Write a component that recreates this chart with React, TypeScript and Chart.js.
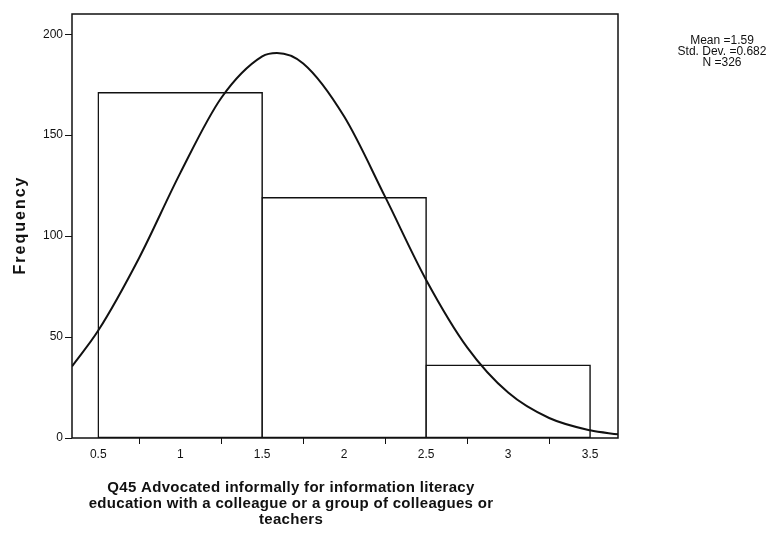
import React, { useEffect, useRef } from "react";
import { Chart, registerables } from "chart.js";

Chart.register(...registerables);

// Histogram bins (centres) and frequencies
const binCenters = [1, 2, 3];
const frequencies = [171, 119, 36];

// Normal curve
const curveX = [0.34, 0.5, 0.75, 1.0, 1.25, 1.5, 1.59, 1.75, 2.0, 2.25, 2.5, 2.75, 3.0, 3.25, 3.5, 3.67];
const curveY = [35.5, 53.2, 89.3, 131.2, 168.4, 189.0, 190.7, 185.5, 159.2, 119.4, 78.3, 44.9, 22.5, 9.9, 3.8, 1.8];

const yTicks = [0, 50, 100, 150, 200];
const xTicks = [0.5, 1, 1.5, 2, 2.5, 3, 3.5];

const statsLines = ["Mean =1.59", "Std. Dev. =0.682", "N =326"];
const xTitleLines = [
  "Q45 Advocated informally for information literacy",
  "education with a colleague or a group of colleagues or",
  "teachers",
];
const yTitle = "Frequency";

const FONT = "'Liberation Sans', Arial, sans-serif";

const textPlugin = {
  id: "customText",
  afterDraw(chart: any) {
    const ctx = chart.ctx;
    const a = chart.chartArea;
    ctx.save();
    // frame
    ctx.strokeStyle = "#111";
    ctx.lineWidth = 1.5;
    ctx.strokeRect(a.left, a.top, a.right - a.left, a.bottom - a.top);
    ctx.fillStyle = "#111";
    ctx.textAlign = "center";
    ctx.textBaseline = "middle";
    // x title
    ctx.font = `bold 15px ${FONT}`;
    (ctx as any).letterSpacing = "0.3px";
    xTitleLines.forEach((t, i) => ctx.fillText(t, 291, 488 + i * 16));
    // stats
    (ctx as any).letterSpacing = "0px";
    ctx.font = `12px ${FONT}`;
    statsLines.forEach((t, i) => ctx.fillText(t, 722, 41 + i * 11));
    // y title
    ctx.translate(21, 225);
    ctx.rotate(-Math.PI / 2);
    ctx.font = `bold 16px ${FONT}`;
    (ctx as any).letterSpacing = "2px";
    ctx.fillText(yTitle, 0, 0);
    ctx.restore();
  },
};

export default function App() {
  const ref = useRef<HTMLCanvasElement>(null);
  useEffect(() => {
    if (!ref.current) return;
    const chart = new Chart(ref.current, {
      type: "bar",
      data: {
        datasets: [
          {
            type: "line",
            data: curveX.map((x, i) => ({ x, y: curveY[i] })),
            borderColor: "#111",
            borderWidth: 2,
            pointRadius: 0,
            cubicInterpolationMode: "monotone",
            fill: false,
            order: 0,
          } as any,
          {
            type: "bar",
            data: binCenters.map((x, i) => ({ x, y: frequencies[i] })),
            backgroundColor: "#ffffff",
            borderColor: "#111",
            borderWidth: 1.5,
            borderSkipped: false,
            inflateAmount: 0.75,
            barPercentage: 1,
            // ruler uses the 0.5 tick spacing, so double it to span a full bin
            categoryPercentage: 2,
            order: 1,
          } as any,
        ],
      },
      options: {
        animation: false,
        responsive: true,
        maintainAspectRatio: false,
        layout: { padding: { left: 0, right: 155, top: 14, bottom: 0 } },
        plugins: { legend: { display: false }, tooltip: { enabled: false } },
        scales: {
          x: {
            type: "linear",
            min: 0.34,
            max: 3.67,
            offset: false,
            afterFit: (s: any) => {
              s.height = 100;
            },
            afterBuildTicks: (s: any) => {
              s.ticks = xTicks.map((v) => ({ value: v }));
            },
            ticks: {
              autoSkip: false,
              maxRotation: 0,
              padding: 3,
              color: "#111",
              font: { family: FONT, size: 12 },
              callback: (v: any) => String(v),
            },
            grid: {
              display: true,
              drawOnChartArea: false,
              drawTicks: true,
              tickLength: 6,
              color: "#111",
              lineWidth: 1,
            },
            border: { display: false },
          },
          y: {
            type: "linear",
            min: 0,
            max: 210,
            offset: false,
            afterFit: (s: any) => {
              s.width = 72;
            },
            afterBuildTicks: (s: any) => {
              s.ticks = yTicks.map((v) => ({ value: v }));
            },
            ticks: {
              padding: 2,
              color: "#111",
              font: { family: FONT, size: 12 },
              callback: (v: any) => String(v),
            },
            grid: {
              display: true,
              drawOnChartArea: false,
              drawTicks: true,
              tickLength: 7,
              color: "#111",
              lineWidth: 1,
            },
            border: { display: false },
          },
        },
      },
      plugins: [textPlugin],
    });
    return () => chart.destroy();
  }, []);
  return (
    <div style={{ position: "fixed", left: 0, top: 0, width: 773, height: 538, background: "#fff" }}>
      <canvas ref={ref} />
    </div>
  );
}
